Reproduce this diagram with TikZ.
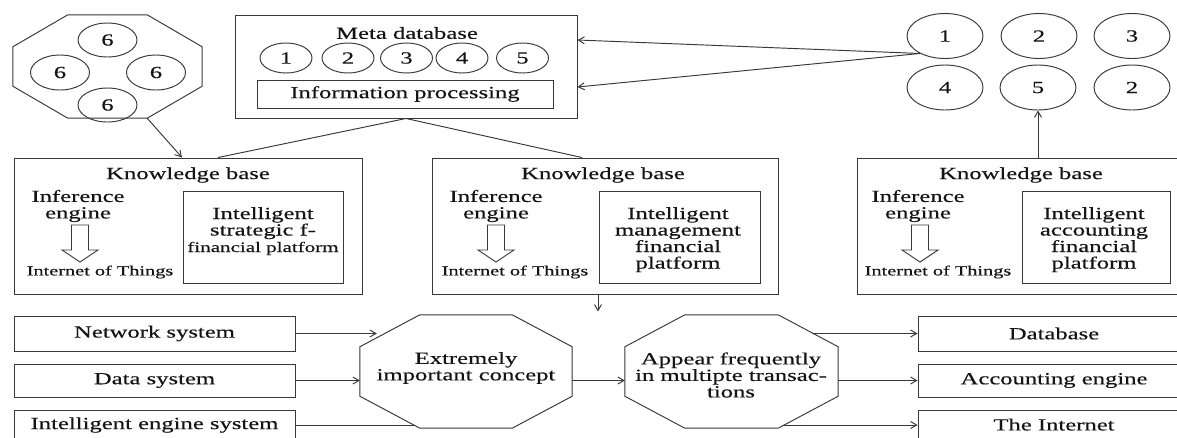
\documentclass[tikz,border=0pt]{standalone}
\usepackage{fontspec}
\setmainfont{Liberation Serif}[FakeStretch=1.45,FakeBold=0.3]
\usetikzlibrary{arrows.meta,shapes.geometric,calc}
\newcommand\octagonat[3]{%
  \draw[ln] ($(#1.north west)+(#2,0)$) -- ($(#1.north east)+(-#2,0)$)
    -- ($(#1.north east)+(0,#3)$) -- ($(#1.south east)+(0,-#3)$)
    -- ($(#1.south east)+(-#2,0)$) -- ($(#1.south west)+(#2,0)$)
    -- ($(#1.south west)+(0,-#3)$) -- ($(#1.north west)+(0,#3)$) -- cycle;}
\begin{document}
\begin{tikzpicture}[x=1pt,y=-1pt,
  ln/.style={draw=black!78, line width=0.95pt},
  arr/.style={ln,-{Straight Barb[length=6pt,width=7pt]}},
  txt/.style={text=black!92, font=\fontsize{17pt}{16.5pt}\selectfont, inner sep=0pt},
  small/.style={text=black!92, font=\fontsize{14pt}{16pt}\selectfont, inner sep=0pt},
  frame/.style={ln, rectangle, inner sep=0pt, txt},
  shapeonly/.style={rectangle, inner sep=0pt, draw=none},
  ell/.style={ln, ellipse, inner sep=0pt, txt},
]
\useasboundingbox (0,0) rectangle (1177,437);
\fill[white] (0,0) rectangle (1177,437);

% ---------- top-left octagon with circles 6
\node[shapeonly, minimum width=189pt, minimum height=103pt] (octA) at (107.5,66.5) {};
\octagonat{octA}{55}{32}
\node[ell, minimum width=59pt, minimum height=34pt] (s1) at (107.5,40) {6};
\node[ell, minimum width=59pt, minimum height=35pt] (s2) at (60,72.5) {6};
\node[ell, minimum width=59pt, minimum height=35pt] (s3) at (156,72.5) {6};
\node[ell, minimum width=59pt, minimum height=34pt] (s4) at (107.5,105) {6};

% ---------- meta database
\node[frame, minimum width=342pt, minimum height=103pt] (meta) at (406,66.5) {};
\node[txt] (metat) at (407,33) {Meta database};
\node[ell, minimum width=52pt, minimum height=30pt] (m1) at (286,58) {1};
\node[ell, minimum width=52pt, minimum height=30pt] (m2) at (348,58) {2};
\node[ell, minimum width=52pt, minimum height=30pt] (m3) at (406.5,58) {3};
\node[ell, minimum width=52pt, minimum height=30pt] (m4) at (462,58) {4};
\node[ell, minimum width=52pt, minimum height=30pt] (m5) at (522.5,58) {5};
\node[frame, minimum width=296pt, minimum height=28pt] (info) at (405,94) {Information processing};

% ---------- right circles
\node[ell, minimum width=76pt, minimum height=45pt] (r1) at (945,36) {1};
\node[ell, minimum width=76pt, minimum height=45pt] (r2) at (1039,36) {2};
\node[ell, minimum width=76pt, minimum height=45pt] (r3) at (1132,36) {3};
\node[ell, minimum width=76pt, minimum height=45pt] (r4) at (945,87.5) {4};
\node[ell, minimum width=76pt, minimum height=45pt] (r5) at (1038,87.5) {5};
\node[ell, minimum width=76pt, minimum height=45pt] (r6) at (1132,87.5) {2};

% ---------- knowledge bases
\node[frame, minimum width=348pt, minimum height=136pt] (kb1) at (188,226) {};
\node[frame, minimum width=346pt, minimum height=136pt] (kb2) at (605,226) {};
\node[frame, minimum width=328pt, minimum height=136pt] (kb3) at (1021,226) {};
\node[txt] (kt1) at (188,175) {Knowledge base};
\node[txt] (kt2) at (603,175) {Knowledge base};
\node[txt] (kt3) at (1021,175) {Knowledge base};
\node[txt, align=center] (ie1) at (78,206) {Inference\\engine};
\node[txt, align=center] (ie2) at (496,206) {Inference\\engine};
\node[txt, align=center] (ie3) at (918,206) {Inference\\engine};
\foreach \cx in {80,496,920}{
  \draw[ln, fill=white] (\cx-8.5,225) -- (\cx+8.5,225) -- (\cx+8.5,250) -- (\cx+18,250)
    -- (\cx,262) -- (\cx-18,250) -- (\cx-8.5,250) -- cycle;
}
\node[small] (iot1) at (100,272) {Internet of Things};
\node[small] (iot2) at (515,272) {Internet of Things};
\node[small] (iot3) at (938,272) {Internet of Things};
\node[frame, minimum width=160pt, minimum height=92pt] (in1) at (263,237) {};
\node[frame, minimum width=161pt, minimum height=92pt] (in2) at (679.5,237) {};
\node[frame, minimum width=148pt, minimum height=92pt] (in3) at (1096,237) {};
\node[txt, align=center, anchor=north] (it1) at (263,207)
  {Intelligent\\strategic f-\\{\fontsize{14.5pt}{16.5pt}\selectfont financial platform}};
\node[txt, align=center, anchor=north] (it2) at (678,207)
  {Intelligent\\management\\financial\\platform};
\node[txt, align=center, anchor=north] (it3) at (1094,207)
  {Intelligent\\accounting\\financial\\platform};

% ---------- bottom row
\node[frame, minimum width=281pt, minimum height=35pt] (net) at (154.5,333.5) {Network system};
\node[frame, minimum width=281pt, minimum height=33pt] (dat) at (154.5,380.5) {Data system};
\node[frame, minimum width=281pt, minimum height=30pt] (ies) at (154.5,425) {\raisebox{1pt}{Intelligent engine system}};
\node[shapeonly, minimum width=212pt, minimum height=113pt] (o1) at (466,371.5) {};
\octagonat{o1}{60}{32}
\node[txt, align=center] (o1t) at (466,368) {Extremely\\important concept};
\node[shapeonly, minimum width=213pt, minimum height=113pt] (o2) at (731.5,371.5) {};
\octagonat{o2}{60}{32}
\node[txt, align=center] (o2t) at (731,375) {Appear frequently\\in multipte transac-\\tions};
\node[frame, minimum width=272pt, minimum height=35pt] (db) at (1054,333.5) {Database};
\node[frame, minimum width=272pt, minimum height=33pt] (acc) at (1054,380.5) {Accounting engine};
\node[frame, minimum width=272pt, minimum height=30pt] (inet) at (1054,425) {\raisebox{1pt}{The Internet}};

% ---------- connectors
\draw[arr] ([xshift=-55pt]octA.south east) -- ([xshift=-6pt]kb1.north);
\draw[ln] (meta.south) -- ([xshift=30pt]kb1.north);
\draw[ln] (meta.south) -- ([xshift=-23pt]kb2.north);
\draw[arr] (r1.215) -- ([yshift=26.5pt]meta.east);
\draw[arr] (r1.215) -- ([yshift=-20.5pt]meta.east);
\draw[arr] (kb3.north -| r5.south) -- (r5.south);
\coordinate (kbdown) at ([xshift=-7pt,yshift=-17pt]kb2.south);
\draw[arr] ([xshift=-7pt]kb2.south) -- (kbdown);
\draw[arr] (net.east) -- ([xshift=17pt]net.east -| o1.west);
\draw[arr] (dat.east) -- (dat.east -| o1.west);
\draw[ln] (ies.east) -- ([xshift=54pt]ies.east -| o1.west);
\draw[arr] (dat.east -| o1.east) -- (dat.east -| o2.west);
\draw[arr] ([xshift=-26pt]db.west -| o2.east) -- (db.west);
\draw[arr] (acc.west -| o2.east) -- (acc.west);
\draw[arr] ([xshift=-56pt]inet.west -| o2.east) -- (inet.west);
\end{tikzpicture}
\end{document}
